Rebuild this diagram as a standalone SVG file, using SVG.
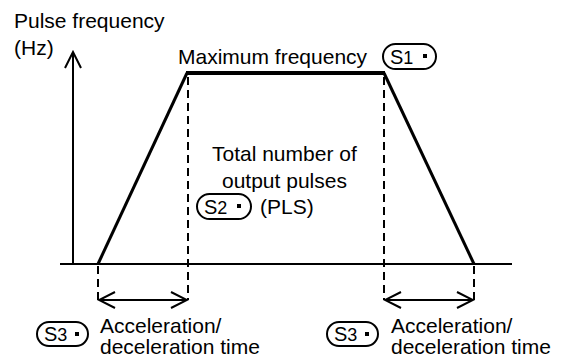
<svg xmlns="http://www.w3.org/2000/svg" width="564" height="358" viewBox="0 0 564 358">
<style>
text{font-family:"Liberation Sans",Arial,sans-serif;font-size:21px;fill:#000}
.b{font-size:20px}
.sub{font-size:18px}
.ln{stroke:#000;stroke-width:2;fill:none}
.tr{stroke:#000;stroke-width:3;fill:none}
.dash{stroke:#000;stroke-width:2;fill:none;stroke-dasharray:8 5}
.badge{fill:#fff;stroke:#000;stroke-width:2}
</style>
<defs>
<marker id="oa" viewBox="0 0 20 20" refX="18" refY="10" markerWidth="20" markerHeight="20" markerUnits="userSpaceOnUse" orient="auto-start-reverse">
<path d="M2,2 L18,10 L2,18" fill="none" stroke="#000" stroke-width="2"/>
</marker>
</defs>
<rect width="564" height="358" fill="#fff"/>
<g id="axes">
<line class="ln" x1="73" y1="264" x2="73" y2="52" marker-end="url(#oa)"/>
<line class="ln" x1="60" y1="264" x2="512" y2="264"/>
<text x="14" y="28">Pulse frequency</text>
<text x="14" y="55">(Hz)</text>
</g>
<g id="connectors">
<line class="tr" x1="98" y1="264" x2="187" y2="73"/>
<line x1="186" y1="73" x2="385" y2="73" stroke="#000" stroke-width="4"/>
<line class="tr" x1="384" y1="73" x2="474" y2="264"/>
<line class="dash" x1="188" y1="77" x2="188" y2="300"/>
<line class="dash" x1="384" y1="77" x2="384" y2="300"/>
<line class="dash" x1="98" y1="266" x2="98" y2="300"/>
<line class="dash" x1="474" y1="266" x2="474" y2="300"/>
<line class="ln" x1="99" y1="300" x2="187" y2="300" marker-start="url(#oa)" marker-end="url(#oa)"/>
<line class="ln" x1="385" y1="300" x2="473" y2="300" marker-start="url(#oa)" marker-end="url(#oa)"/>
</g>
<g id="max-freq">
<text x="178" y="64">Maximum frequency</text>
<rect class="badge" x="383" y="44" width="53" height="25" rx="12.5"/>
<text class="b" x="390" y="64">S<tspan class="sub">1</tspan></text>
<rect x="423" y="54" width="4" height="4" fill="#000"/>
</g>
<g id="total">
<text x="212" y="161">Total number of</text>
<text x="222" y="188">output pulses</text>
<rect class="badge" x="197" y="194" width="54" height="25" rx="12.5"/>
<text class="b" x="204" y="214">S<tspan class="sub">2</tspan></text>
<rect x="237" y="204" width="4" height="4" fill="#000"/>
<text x="260" y="214">(PLS)</text>
</g>
<g id="accel-left">
<rect class="badge" x="37" y="322" width="51" height="24" rx="12"/>
<text class="b" x="44" y="341">S<tspan class="sub">3</tspan></text>
<rect x="75" y="332" width="4" height="4" fill="#000"/>
<text x="100" y="333">Acceleration/</text>
<text x="100" y="354">deceleration time</text>
</g>
<g id="accel-right">
<rect class="badge" x="327" y="322" width="51" height="24" rx="12"/>
<text class="b" x="334" y="341">S<tspan class="sub">3</tspan></text>
<rect x="365" y="332" width="4" height="4" fill="#000"/>
<text x="391" y="333">Acceleration/</text>
<text x="391" y="354">deceleration time</text>
</g>
</svg>
